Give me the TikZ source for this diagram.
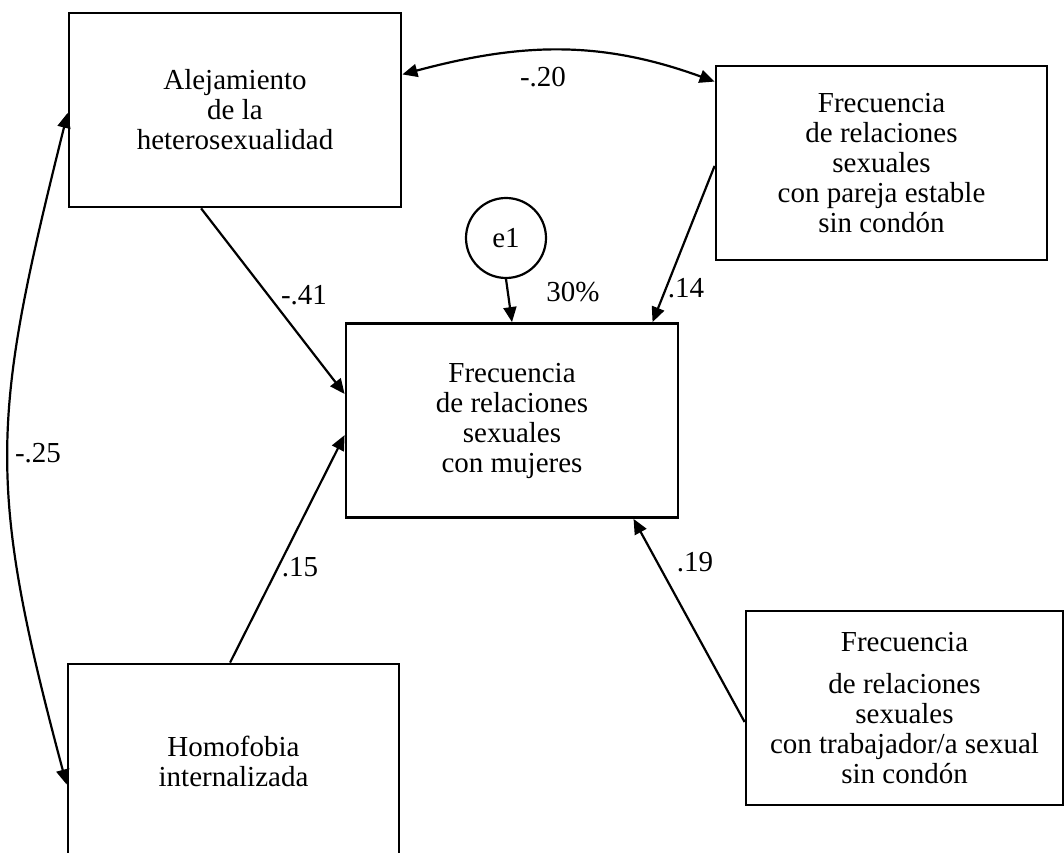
\documentclass[tikz,border=0pt]{standalone}
\usepackage{fontspec}
\setmainfont{Liberation Serif}
\usetikzlibrary{arrows.meta,positioning}
\newcommand{\letra}{\fontsize{14.5}{15}\selectfont}
\tikzstyle{caja} = [draw, line width=1.4pt, rectangle, align=center, minimum width=166pt, minimum height=97pt, inner sep=0pt, font=\letra]
\tikzstyle{residuo} = [draw, circle, line width=1.1pt, minimum size=40pt, inner sep=0pt, font=\letra]
\tikzstyle{coef} = [inner sep=0pt, font=\letra]
\tikzstyle{flecha} = [line width=1.1pt, -{Triangle[length=7.5pt,width=6.5pt]}]
\tikzstyle{covar} = [line width=1.1pt, {Triangle[length=7.5pt,width=6.5pt]}-{Triangle[length=7.5pt,width=6.5pt]}]

\begin{document}
\begin{tikzpicture}[x=0.5pt,y=0.5pt]
	\clip (0,0) rectangle (1064,852);
	% variables
	\node[caja] (alej) at (235,742) {Alejamiento\\de la\\heterosexualidad};
	\node[caja, minimum width=165.5pt] (estable) at (881.5,689) {Frecuencia\\de relaciones\\sexuales\\con pareja estable\\sin condón};
	\node[caja] (mujeres) at (512,431.5) {Frecuencia\\de relaciones\\sexuales\\con mujeres};
	\node[caja, minimum width=165.5pt] (homo) at (233.5,91) {Homofobia\\internalizada};
	\node[caja, minimum width=158.5pt] (trab) at (904.5,144) {Frecuencia\\[6pt]de relaciones\\sexuales\\con trabajador/a sexual\\sin condón};
	\node[residuo] (e1) at (506,614) {e1};
	% coeficientes
	\node[coef] (c20) at (543,775) {-.20};
	\node[coef] (c41) at (304,557) {-.41};
	\node[coef] (c15) at (300,285) {.15};
	\node[coef] (c14) at (686,564) {.14};
	\node[coef] (r2) at (573,560) {30\%};
	\node[coef] (c19) at (695,290) {.19};
	\node[coef] (c25) at (38,399) {-.25};
	% caminos
	\draw[flecha] (alej.251.7) -- (mujeres.171.9);
	\draw[flecha] (homo.92.7) -- (mujeres.185);
	\draw[flecha] (estable.181.4) -- (mujeres.35.6);
	\draw[flecha] (e1.south) -- (mujeres.north);
	\draw[flecha] (trab.185.4) -- (mujeres.321.6);
	% covarianzas
	\draw[covar] (alej.12.9) to[out=15,in=160] (estable.154.2);
	\draw[covar] (alej.181) to[out=256,in=105,looseness=1.2] (homo.188.3);
\end{tikzpicture}
\end{document}
